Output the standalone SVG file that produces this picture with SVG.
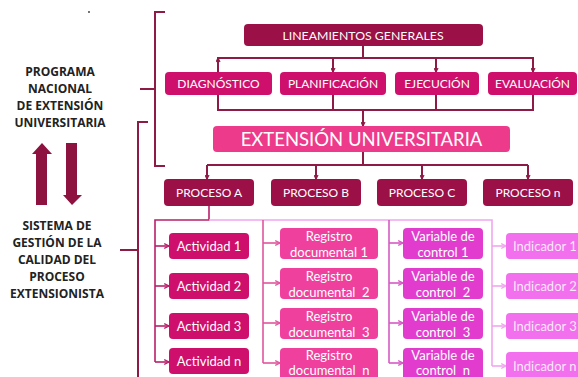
<svg xmlns="http://www.w3.org/2000/svg" width="578" height="377" viewBox="0 0 578 377">
<defs>
<style>
.t{font-family:Lato,"Open Sans","Liberation Sans",sans-serif;fill:#fff;text-anchor:middle}
.side{font-family:"Open Sans","Liberation Sans",sans-serif;font-weight:bold;font-size:12px;fill:#222;text-anchor:middle}
.dark{fill:#9b1046}
.mag{fill:#cf0f6c}
.ext{fill:#ee3a8b}
.reg{fill:#f0409e}
.var{fill:#e23ccf}
.ind{fill:#f270ee}
.c1{fill:none;stroke:#8e1a46;stroke-width:2}
.c2{fill:none;stroke:#b8206a;stroke-width:1.6}
.c3{fill:none;stroke:#e0559e;stroke-width:1.6}
.c4{fill:none;stroke:#d55ac4;stroke-width:1.6}
.c5{fill:none;stroke:#f0a6ee;stroke-width:1.6}
.br{fill:none;stroke:#8e1a46;stroke-width:2}
</style>
<marker id="ad" viewBox="0 0 10 10" refX="9" refY="5" markerWidth="5" markerHeight="5" orient="auto" markerUnits="userSpaceOnUse"><path d="M1,1 L9,5 L1,9" fill="none" stroke="#8e1a46" stroke-width="2.4"/></marker>
<marker id="a2" viewBox="0 0 10 10" refX="9" refY="5" markerWidth="6" markerHeight="6" orient="auto" markerUnits="userSpaceOnUse"><path d="M1,1 L9,5 L1,9" fill="none" stroke="#b8206a" stroke-width="2"/></marker>
<marker id="a3" viewBox="0 0 10 10" refX="9" refY="5" markerWidth="6" markerHeight="6" orient="auto" markerUnits="userSpaceOnUse"><path d="M1,1 L9,5 L1,9" fill="none" stroke="#e0559e" stroke-width="2"/></marker>
<marker id="a4" viewBox="0 0 10 10" refX="9" refY="5" markerWidth="6" markerHeight="6" orient="auto" markerUnits="userSpaceOnUse"><path d="M1,1 L9,5 L1,9" fill="none" stroke="#d55ac4" stroke-width="2"/></marker>
<marker id="a5" viewBox="0 0 10 10" refX="9" refY="5" markerWidth="6" markerHeight="6" orient="auto" markerUnits="userSpaceOnUse"><path d="M1,1 L9,5 L1,9" fill="none" stroke="#f0a6ee" stroke-width="2"/></marker>
</defs>
<rect width="578" height="377" fill="#fff"/>
<circle cx="89" cy="12" r="0.9" fill="#333"/>

<g id="side-labels">
<text class="side" x="60" y="76">PROGRAMA</text>
<text class="side" x="60" y="93">NACIONAL</text>
<text class="side" x="60" y="110">DE EXTENSIÓN</text>
<text class="side" x="60" y="127">UNIVERSITARIA</text>
<text class="side" x="57" y="230">SISTEMA DE</text>
<text class="side" x="57" y="247">GESTIÓN DE LA</text>
<text class="side" x="57" y="264">CALIDAD DEL</text>
<text class="side" x="57" y="281">PROCESO</text>
<text class="side" x="57" y="298">EXTENSIONISTA</text>
<polygon points="42,143 52,154 47,154 47,205 36,205 36,154 32,154" fill="#8e1240"/>
<polygon points="66,143 77,143 77,195 82,195 72,205 63,195 66,195" fill="#8e1240"/>
</g>

<g id="braces">
<path class="br" d="M165,12 H155 V166 H165 M140,89 H155"/>
<path class="br" d="M148,122 H138 V377 M120,250 H138"/>
</g>

<g id="connectors">
<path class="c1" d="M363,46 V58 M218,72 V58 H533 V72"/>
<path class="c1" d="M218,72 V58" marker-end="url(#ad)"/>
<path class="c1" d="M333,58 V72" marker-end="url(#ad)"/>
<path class="c1" d="M436,58 V72" marker-end="url(#ad)"/>
<path class="c1" d="M533,58 V72" marker-end="url(#ad)"/>
<path class="c1" d="M218,95 V110 H533 V95 M333,95 V110 M436,95 V110"/>
<path class="c1" d="M363,110 V126" marker-end="url(#ad)"/>
<path class="c1" d="M363,152 V165 M207,165 H528"/>
<path class="c1" d="M207,165 V179" marker-end="url(#ad)"/>
<path class="c1" d="M316,165 V179" marker-end="url(#ad)"/>
<path class="c1" d="M422,165 V179" marker-end="url(#ad)"/>
<path class="c1" d="M528,165 V179" marker-end="url(#ad)"/>
<path class="c2" d="M209,206 V220 H155 V362"/>
<path class="c5" d="M209,220 H492 V366"/>
<path class="c2" d="M155,246 H169" marker-end="url(#a2)"/>
<path class="c2" d="M155,286 H169" marker-end="url(#a2)"/>
<path class="c2" d="M155,326 H169" marker-end="url(#a2)"/>
<path class="c2" d="M155,362 H169" marker-end="url(#a2)"/>
<path class="c3" d="M263,220 V363"/>
<path class="c3" d="M263,243 H280" marker-end="url(#a3)"/>
<path class="c3" d="M263,283 H280" marker-end="url(#a3)"/>
<path class="c3" d="M263,323 H280" marker-end="url(#a3)"/>
<path class="c3" d="M263,363 H280" marker-end="url(#a3)"/>
<path class="c4" d="M389,220 V363"/>
<path class="c4" d="M389,243 H403" marker-end="url(#a4)"/>
<path class="c4" d="M389,283 H403" marker-end="url(#a4)"/>
<path class="c4" d="M389,323 H403" marker-end="url(#a4)"/>
<path class="c4" d="M389,363 H403" marker-end="url(#a4)"/>
<path class="c5" d="M492,246 H506" marker-end="url(#a5)"/>
<path class="c5" d="M492,286 H506" marker-end="url(#a5)"/>
<path class="c5" d="M492,326 H506" marker-end="url(#a5)"/>
<path class="c5" d="M492,366 H506" marker-end="url(#a5)"/>
</g>

<g id="lineamientos"><rect class="dark" x="244" y="24" width="239" height="22" rx="4"/><text class="t" x="363" y="39.5" font-size="12.3">LINEAMIENTOS GENERALES</text></g>
<g id="diagnostico"><rect class="mag" x="165" y="72" width="107" height="23" rx="4"/><text class="t" x="218.5" y="88" font-size="12">DIAGNÓSTICO</text></g>
<g id="planificacion"><rect class="mag" x="280" y="72" width="106" height="23" rx="4"/><text class="t" x="333" y="88" font-size="12">PLANIFICACIÓN</text></g>
<g id="ejecucion"><rect class="mag" x="395" y="72" width="84" height="23" rx="4"/><text class="t" x="437" y="88" font-size="12">EJECUCIÓN</text></g>
<g id="evaluacion"><rect class="mag" x="488" y="72" width="89" height="23" rx="4"/><text class="t" x="532.5" y="88" font-size="12">EVALUACIÓN</text></g>
<g id="extension"><rect class="ext" x="213" y="126" width="297" height="26" rx="4"/><text class="t" x="361.5" y="145.5" font-size="18.5">EXTENSIÓN UNIVERSITARIA</text></g>
<g id="proceso-a"><rect class="dark" x="164" y="179" width="90" height="27" rx="4"/><text class="t" x="209" y="197" font-size="12">PROCESO A</text></g>
<g id="proceso-b"><rect class="dark" x="271" y="179" width="90" height="27" rx="4"/><text class="t" x="316" y="197" font-size="12">PROCESO B</text></g>
<g id="proceso-c"><rect class="dark" x="377" y="179" width="90" height="27" rx="4"/><text class="t" x="422" y="197" font-size="12">PROCESO C</text></g>
<g id="proceso-n"><rect class="dark" x="483" y="179" width="90" height="27" rx="4"/><text class="t" x="528" y="197" font-size="12">PROCESO n</text></g>

<g id="actividad-1"><rect class="mag" x="169" y="233" width="80" height="26" rx="4"/><text class="t" x="209" y="251" font-size="13">Actividad 1</text></g>
<g id="actividad-2"><rect class="mag" x="169" y="273" width="80" height="26" rx="4"/><text class="t" x="209" y="291" font-size="13">Actividad 2</text></g>
<g id="actividad-3"><rect class="mag" x="169" y="313" width="80" height="26" rx="4"/><text class="t" x="209" y="331" font-size="13">Actividad 3</text></g>
<g id="actividad-n"><rect class="mag" x="169" y="348" width="80" height="26" rx="4"/><text class="t" x="209" y="366" font-size="13">Actividad n</text></g>

<g id="registro-1"><rect class="reg" x="280" y="228" width="98" height="31" rx="4"/><text class="t" x="329" y="241" font-size="13">Registro</text><text class="t" x="329" y="256.5" font-size="13">documental 1</text></g>
<g id="registro-2"><rect class="reg" x="280" y="268" width="98" height="31" rx="4"/><text class="t" x="329" y="281" font-size="13">Registro</text><text class="t" x="329" y="296.5" font-size="13" xml:space="preserve">documental  2</text></g>
<g id="registro-3"><rect class="reg" x="280" y="308" width="98" height="31" rx="4"/><text class="t" x="329" y="321" font-size="13">Registro</text><text class="t" x="329" y="336.5" font-size="13" xml:space="preserve">documental  3</text></g>
<g id="registro-n"><rect class="reg" x="280" y="348" width="98" height="33" rx="4"/><text class="t" x="329" y="360" font-size="13">Registro</text><text class="t" x="329" y="375" font-size="13" xml:space="preserve">documental  n</text></g>

<g id="variable-1"><rect class="var" x="403" y="228" width="80" height="31" rx="4"/><text class="t" x="443" y="241" font-size="13">Variable de</text><text class="t" x="443" y="256.5" font-size="13">control 1</text></g>
<g id="variable-2"><rect class="var" x="403" y="268" width="80" height="31" rx="4"/><text class="t" x="443" y="281" font-size="13">Variable de</text><text class="t" x="443" y="296.5" font-size="13" xml:space="preserve">control  2</text></g>
<g id="variable-3"><rect class="var" x="403" y="308" width="80" height="31" rx="4"/><text class="t" x="443" y="321" font-size="13">Variable de</text><text class="t" x="443" y="336.5" font-size="13" xml:space="preserve">control  3</text></g>
<g id="variable-n"><rect class="var" x="403" y="348" width="80" height="33" rx="4"/><text class="t" x="443" y="360" font-size="13">Variable de</text><text class="t" x="443" y="375" font-size="13" xml:space="preserve">control  n</text></g>

<g id="indicador-1"><rect class="ind" x="506" y="233" width="80" height="26" rx="4"/><text class="t" x="513" y="251" font-size="13" style="text-anchor:start" fill-opacity="0.85">Indicador 1</text></g>
<g id="indicador-2"><rect class="ind" x="506" y="273" width="80" height="26" rx="4"/><text class="t" x="513" y="291" font-size="13" style="text-anchor:start" fill-opacity="0.85">Indicador 2</text></g>
<g id="indicador-3"><rect class="ind" x="506" y="313" width="80" height="26" rx="4"/><text class="t" x="513" y="331" font-size="13" style="text-anchor:start" fill-opacity="0.85">Indicador 3</text></g>
<g id="indicador-n"><rect class="ind" x="506" y="352" width="80" height="28" rx="4"/><text class="t" x="513" y="371" font-size="13" style="text-anchor:start" fill-opacity="0.85">Indicador n</text></g>
</svg>
